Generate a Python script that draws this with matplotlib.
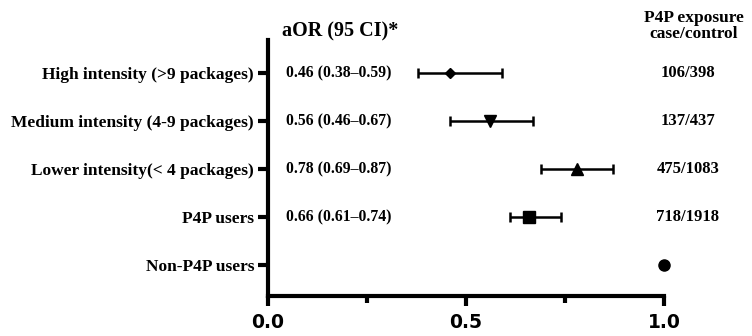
import matplotlib.pyplot as plt

groups = ["Non-P4P users", "P4P users", "Lower intensity(< 4 packages)",
          "Medium intensity (4-9 packages)", "High intensity (>9 packages)"]
aor = [1.0, 0.66, 0.78, 0.56, 0.46]
ci_low = [None, 0.61, 0.69, 0.46, 0.38]
ci_high = [None, 0.74, 0.87, 0.67, 0.59]
markers = ["o", "s", "^", "v", "D"]
counts = ["", "718/1918", "475/1083", "137/437", "106/398"]

serif = "Liberation Serif"

fig = plt.figure(figsize=(7.52, 3.36), dpi=100)
ax = fig.add_axes([268 / 752, 1 - 296 / 336, 396 / 752, 256 / 336])

sizes = {"o": 8, "s": 8, "^": 8.5, "v": 8.5, "D": 5.5}
for i, (v, lo, hi, m) in enumerate(zip(aor, ci_low, ci_high, markers)):
    if lo is not None:
        ax.errorbar(v, i, xerr=[[v - lo], [hi - v]], fmt=m, color="black",
                    ms=sizes[m], elinewidth=1.8, capsize=3.8, capthick=1.8)
        ax.text(0.045, i, f"{v:.2f} ({lo:.2f}\u2013{hi:.2f})", ha="left",
                va="center", fontsize=11.3, fontweight="bold", family=serif)
    else:
        ax.plot(v, i, marker=m, color="black", ms=sizes[m], ls="none", clip_on=False)
    if counts[i]:
        ax.text(1.06, i, counts[i], ha="center", va="center", fontsize=12,
                fontweight="bold", family=serif, clip_on=False)

ax.set_xlim(0, 1.0)
ax.set_ylim(-0.65, 4.7)
ax.set_yticks(range(len(groups)))
ax.set_yticklabels(groups, fontsize=12.5, fontweight="bold", family=serif)
ax.set_xticks([0.0, 0.5, 1.0])
ax.set_xticks([0.25, 0.75], minor=True)
ax.set_xticklabels(["0.0", "0.5", "1.0"], fontsize=13.5, fontweight="bold",
                   family="DejaVu Sans")

for s in ["top", "right"]:
    ax.spines[s].set_visible(False)
for s in ["left", "bottom"]:
    ax.spines[s].set_linewidth(3)
ax.tick_params(axis="both", which="major", width=3, length=7)
ax.tick_params(axis="x", which="minor", width=3, length=5)
ax.tick_params(axis="x", pad=5)
ax.tick_params(axis="y", pad=3)

fig.text(282 / 752, 1 - 36 / 336, "aOR (95 CI)*", ha="left", va="baseline",
         fontsize=14.5, fontweight="bold", family=serif)
fig.text(694 / 752, 1 - 26 / 336, "P4P exposure\ncase/control", ha="center",
         va="center", fontsize=12.5, fontweight="bold", family=serif, linespacing=1.0)

fig.savefig("out.png", dpi=100)
